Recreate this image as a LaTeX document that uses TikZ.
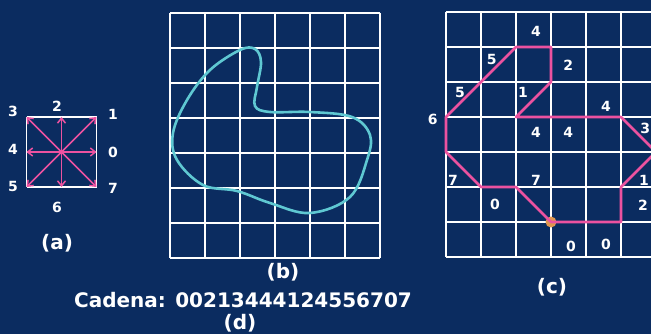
\documentclass[tikz,border=0pt]{standalone}
\usepackage{fontspec}
\setmainfont{DejaVu Sans}
\usetikzlibrary{arrows.meta}
\definecolor{slide-navy}{RGB}{11,44,96}
\definecolor{chain-pink}{RGB}{236,82,160}
\definecolor{curve-cyan}{RGB}{95,200,210}
\definecolor{start-orange}{RGB}{222,150,80}

\begin{document}
\begin{tikzpicture}[x=1pt, y=-1pt,
  gridline/.style={draw=white, line width=1.6pt},
  code/.style={text=white, font=\fontsize{14}{14}\selectfont\bfseries, inner sep=0pt},
  caption/.style={text=white, font=\fontsize{20}{20}\selectfont\bfseries, inner sep=0pt},
  dir/.style={-{Straight Barb[length=5pt,width=8pt]}, chain-pink, line width=1.5pt},
  contour/.style={chain-pink, line width=2.6pt, line join=round},
]
  % Background
  \fill[slide-navy] (0,0) rectangle (651,334);
  \useasboundingbox (0,0) rectangle (651,334);
  \clip (0,0) rectangle (651,334);

  % (a) Direction codes
  \begin{scope}[shift={(26.5,117)}, x=35pt, y=-35pt]
    \foreach \i in {0,1,2} {
      \draw[gridline] (\i,0) -- (\i,2);
      \draw[gridline] (0,\i) -- (2,\i);
    }
    \coordinate (ctr) at (1,1);
    \coordinate (d0) at (2,1);
    \coordinate (d1) at (2,0);
    \coordinate (d2) at (1,0);
    \coordinate (d3) at (0,0);
    \coordinate (d4) at (0,1);
    \coordinate (d5) at (0,2);
    \coordinate (d6) at (1,2);
    \coordinate (d7) at (2,2);
    \foreach \d in {0,...,7}
      \draw[dir] (ctr) -- (d\d);
  \end{scope}
  \node[code] (a0) at (113,152) {0};
  \node[code] (a1) at (113,114) {1};
  \node[code] (a2) at (57,106) {2};
  \node[code] (a3) at (13,111) {3};
  \node[code] (a4) at (13,149) {4};
  \node[code] (a5) at (13,186) {5};
  \node[code] (a6) at (57,207) {6};
  \node[code] (a7) at (113,188) {7};
  \node[caption] (capa) at (57,243) {(a)};

  % (b) Boundary on the grid
  \begin{scope}[shift={(170,13)}, x=35pt, y=-35pt]
    \foreach \i in {0,...,6}
      \draw[gridline] (\i,0) -- (\i,7);
    \foreach \j in {0,...,7}
      \draw[gridline] (0,\j) -- (6,\j);
  \end{scope}
  \draw[curve-cyan, line width=2.6pt] plot[smooth cycle, tension=0.6] coordinates {
    (240,50) (255,49) (261,62) (257,87) (255,106) (270,112) (310,112)
    (352,117) (370,135) (367,160) (350,197) (310,213) (270,203)
    (237,191) (203,185) (177,160) (173,133) (187,100) (210,70)};
  \node[caption] (capb) at (283,272) {(b)};

  % (c) Chain code on the grid
  \begin{scope}[shift={(446,12)}, x=35pt, y=-35pt]
    \foreach \i in {0,...,7}
      \draw[gridline] (\i,0) -- (\i,7);
    \foreach \j in {0,...,7}
      \draw[gridline] (0,\j) -- (7,\j);
    \coordinate (c0) at (3,6);
    \coordinate (c1) at (4,6);
    \coordinate (c2) at (5,6);
    \coordinate (c3) at (5,5);
    \coordinate (c4) at (6,4);
    \coordinate (c5) at (5,3);
    \coordinate (c6) at (4,3);
    \coordinate (c7) at (3,3);
    \coordinate (c8) at (2,3);
    \coordinate (c9) at (3,2);
    \coordinate (c10) at (3,1);
    \coordinate (c11) at (2,1);
    \coordinate (c12) at (1,2);
    \coordinate (c13) at (0,3);
    \coordinate (c14) at (0,4);
    \coordinate (c15) at (1,5);
    \coordinate (c16) at (2,5);
    \fill[start-orange] (c0) circle (5.5pt);
    \draw[contour] (c0) -- (c1) -- (c2) -- (c3) -- (c4) -- (c5) -- (c6)
      -- (c7) -- (c8) -- (c9) -- (c10) -- (c11) -- (c12) -- (c13)
      -- (c14) -- (c15) -- (c16) -- cycle;

    % codes along the boundary
    \node[code] (k1) at (3.57,6.7) {0};
    \node[code] (k2) at (4.57,6.65) {0};
    \node[code] (k3) at (5.63,5.51) {2};
    \node[code] (k4) at (5.66,4.8) {1};
    \node[code] (k5) at (5.69,3.32) {3};
    \node[code] (k6) at (4.57,2.69) {4};
    \node[code] (k7) at (2.57,3.45) {4};
    \node[code] (k8) at (3.49,3.45) {4};
    \node[code] (k9) at (2.2,2.31) {1};
    \node[code] (k10) at (3.49,1.51) {2};
    \node[code] (k11) at (2.57,0.56) {4};
    \node[code] (k12) at (1.31,1.37) {5};
    \node[code] (k13) at (0.4,2.31) {5};
    \node[code] (k14) at (-0.38,3.07) {6};
    \node[code] (k15) at (0.2,4.8) {7};
    \node[code] (k16) at (1.40,5.51) {0};
    \node[code] (k17) at (2.57,4.8) {7};
  \end{scope}
  \node[caption] (capc) at (552,287) {(c)};

  % (d) Resulting chain
  \node[caption] (chain) at (243,300) {Cadena: 00213444124556707};
  \node[caption] (capd) at (240,323) {(d)};
\end{tikzpicture}
\end{document}
